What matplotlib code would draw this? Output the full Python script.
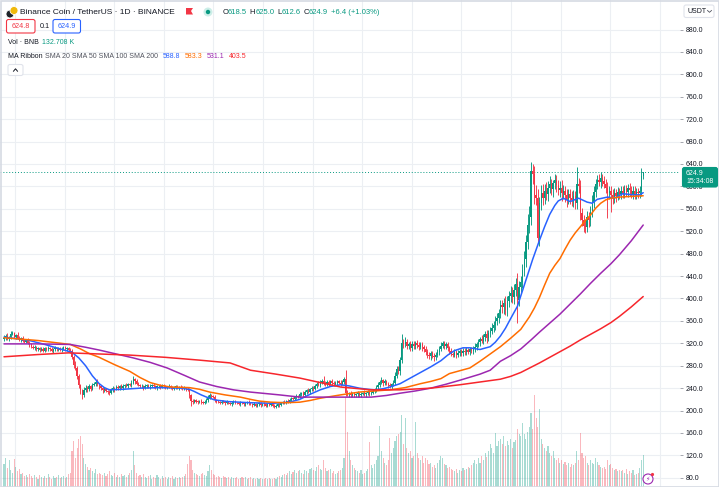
import numpy as np
import matplotlib.pyplot as plt
from matplotlib.patches import Rectangle, FancyBboxPatch, Circle, Polygon
from matplotlib.lines import Line2D
from matplotlib.transforms import Affine2D

plt.rcParams['font.family'] = ['Liberation Sans', 'DejaVu Sans']

W, H = 719, 487

# ---- daily candles (BNB / USDT) ----
first_open = 328.0
closes = (
    [330, 333, 328, 331, 336, 338, 332, 335, 330, 327, 329, 325, 323, 326, 321, 318, 314, 311, 313, 309,
     311, 308, 310, 307, 311, 309, 312, 309, 307, 310, 312, 309, 311, 308, 310, 313, 309, 311, 308, 306]
    + [296, 281, 276, 262, 245, 236, 228, 236, 241, 238, 243, 239, 245, 247, 251, 247, 243]
    + [240, 236, 238, 235, 233, 231, 236, 240, 238, 242, 240, 244, 241, 243, 246, 244, 247, 245, 250, 256, 252]
    + [248, 245, 243, 244, 241, 243, 245, 242, 244, 246, 243, 241, 243, 244, 242, 245, 243, 241, 242, 244,
       241, 239, 241, 243, 240, 242, 241, 239, 240, 238, 237]
    + [228, 217, 216, 218, 216, 215, 217, 215, 214, 216, 218, 222, 228, 226, 224, 218, 216, 215, 214, 216,
       215, 213, 215, 214, 212, 214, 216, 214, 213, 212, 214, 213, 211, 213, 215, 213, 212]
    + [210, 212, 209, 211, 213, 210, 212, 211, 209, 211, 210, 212, 209, 207, 209, 211, 210, 213, 215, 214,
       217, 216, 219, 222, 220, 224, 226, 225, 229]
    + [231, 228, 233, 236, 234, 238, 241, 239, 244, 248, 246, 250, 253, 249, 247, 251, 248, 252, 250, 247,
       249, 252, 250, 248, 251, 256]
    + [232]
    + [229, 231, 228, 230, 227, 229, 231, 228, 230, 232, 229, 231, 233, 230, 232, 235, 238]
    + [242, 246, 251, 254, 249, 252, 248, 245, 243, 247, 250, 262, 275, 270]
    + [290, 320, 318, 322, 316, 318, 312, 319, 315, 320, 317, 314, 318, 313, 310]
    + [305, 300, 297, 302, 298, 295, 300, 304, 310, 316, 320, 315, 318, 312, 306, 301]
    + [300, 304, 299, 303, 306, 302, 307, 304, 308, 305, 309, 306, 310]
    + [314, 318, 322, 327, 325, 332, 336, 330, 338, 342, 348, 352, 360, 365, 374, 388]
    + [384, 392, 380, 395, 405, 410, 402, 415, 425, 398, 420, 430]
    + [450, 470, 500, 532, 545, 628, 622, 584]
    + [580, 508, 570, 588, 580, 592, 586, 598, 604, 596, 606, 611, 602]
    + [594, 598, 588, 592, 584, 578, 586, 580, 575, 583, 570]
    + [605, 600, 552, 540, 530, 528, 545, 540]
    + [555, 572, 590, 605, 612, 608, 615, 610]
    + [605, 598, 588, 592, 585, 580, 588, 583, 590, 586]
    + [592, 588, 595, 590, 598, 593, 587, 592, 585, 590, 588, 591]
    + [618.5, 624.9]
)
upper_wick = (
    [4, 3, 5, 2, 6, 4, 3, 2, 5, 3, 2, 4, 3, 2, 4, 3, 2, 3, 4, 2, 3, 2, 3, 4, 2, 3, 3, 2, 4, 2, 3, 2, 3, 2, 4, 3, 2, 3, 2, 3]
    + [4, 3, 8, 3, 4, 3, 2, 6, 4, 3, 4, 3, 5, 4, 3, 6, 3]
    + [3, 2, 4, 3, 2, 3, 4, 3, 2, 4, 3, 2, 3, 4, 2, 3, 3, 2, 4, 6, 3]
    + [5, 3, 2, 3, 2, 4, 3, 2, 3, 2, 3, 2, 3, 2, 4, 2, 3, 2, 2, 3, 2, 3, 2, 3, 2, 2, 3, 2, 3, 2, 4]
    + [3, 2, 3, 2, 3, 2, 2, 3, 2, 3, 4, 5, 3, 2, 2, 3, 2, 3, 2, 2, 3, 2, 3, 2, 2, 3, 2, 3, 2, 2, 3, 2, 3, 2, 2, 3, 2]
    + [2, 3, 2, 2, 3, 2, 2, 3, 2, 2, 3, 2, 2, 3, 2, 3, 2, 3, 2, 3, 2, 3, 3, 2, 3, 2, 3, 2, 4]
    + [3, 4, 3, 2, 4, 3, 3, 2, 4, 3, 5, 4, 3, 8, 3, 4, 3, 2, 4, 3, 3, 2, 3, 4, 3, 4]
    + [16]
    + [4, 3, 4, 3, 3, 2, 4, 3, 3, 2, 4, 3, 4, 3, 3, 4, 3]
    + [4, 5, 4, 6, 3, 4, 3, 3, 4, 3, 5, 6, 5, 4]
    + [6, 16, 8, 10, 6, 5, 7, 5, 6, 5, 6, 5, 4, 5, 4]
    + [5, 4, 5, 4, 4, 5, 4, 5, 6, 6, 4, 5, 4, 5, 4, 5]
    + [4, 5, 4, 5, 4, 4, 5, 4, 5, 4, 5, 4, 6]
    + [6, 5, 6, 5, 7, 5, 6, 8, 6, 7, 8, 7, 8, 9, 8, 10]
    + [10, 8, 12, 10, 9, 12, 10, 11, 12, 20, 12, 10]
    + [12, 15, 14, 18, 20, 15, 12, 14]
    + [18, 15, 12, 14, 16, 12, 15, 12, 14, 10, 5, 12, 10]
    + [10, 12, 14, 10, 8, 12, 10, 9, 12, 10, 8]
    + [30, 10, 12, 10, 9, 10, 12, 10]
    + [10, 12, 10, 9, 8, 11, 10, 8]
    + [9, 8, 10, 9, 8, 10, 9, 8, 9, 8]
    + [8, 9, 7, 8, 6, 8, 7, 8, 9, 7, 8, 9]
    + [14.5, 0.1]
)
lower_wick = (
    [3, 4, 2, 3, 4, 2, 3, 4, 2, 3, 4, 2, 3, 3, 2, 4, 3, 2, 3, 2, 3, 4, 2, 3, 2, 3, 2, 3, 2, 4, 3, 2, 3, 2, 3, 2, 3, 2, 4, 3]
    + [4, 5, 3, 5, 4, 6, 8, 4, 3, 5, 3, 4, 3, 2, 4, 3, 4]
    + [3, 4, 3, 2, 4, 3, 2, 3, 4, 2, 3, 3, 2, 4, 3, 2, 3, 2, 3, 3, 4]
    + [3, 2, 3, 2, 4, 2, 3, 2, 3, 2, 3, 2, 4, 2, 3, 2, 3, 2, 3, 2, 2, 3, 2, 3, 2, 3, 2, 3, 2, 3, 2]
    + [5, 9, 4, 3, 2, 3, 2, 3, 2, 3, 2, 3, 2, 3, 2, 2, 3, 2, 3, 2, 2, 3, 2, 3, 2, 3, 2, 3, 2, 2, 3, 2, 3, 2, 2, 3, 2]
    + [3, 2, 3, 2, 2, 3, 2, 3, 2, 3, 2, 2, 3, 2, 3, 2, 3, 2, 2, 3, 2, 3, 2, 3, 2, 2, 3, 2, 3]
    + [3, 4, 3, 4, 3, 4, 3, 4, 3, 4, 3, 4, 3, 4, 3, 3, 4, 3, 4, 3, 3, 4, 3, 4, 3, 4]
    + [6]
    + [3, 4, 3, 4, 3, 3, 4, 3, 4, 3, 3, 4, 3, 4, 3, 3, 4]
    + [4, 3, 4, 3, 5, 4, 3, 4, 3, 4, 3, 5, 4, 5]
    + [6, 5, 6, 5, 7, 6, 5, 6, 5, 6, 5, 6, 5, 6, 5]
    + [5, 6, 5, 6, 5, 6, 5, 4, 5, 4, 5, 6, 5, 6, 5, 4]
    + [5, 4, 5, 4, 5, 4, 5, 4, 5, 4, 5, 4, 5]
    + [5, 6, 5, 6, 5, 6, 7, 10, 6, 7, 6, 7, 8, 7, 8, 9]
    + [10, 12, 9, 11, 10, 12, 10, 11, 10, 42, 12, 10]
    + [12, 10, 14, 12, 15, 14, 18, 15]
    + [14, 8, 15, 12, 14, 12, 10, 12, 10, 12, 14, 10, 12]
    + [10, 12, 14, 10, 12, 14, 10, 12, 10, 12, 10]
    + [10, 12, 12, 10, 12, 11, 10, 12]
    + [10, 9, 10, 8, 9, 8, 10, 9]
    + [8, 9, 45, 10, 30, 12, 9, 10, 8, 9]
    + [8, 9, 8, 7, 9, 10, 8, 9, 8, 7, 8, 9]
    + [8, 5.9]
)
volume_k = (
    [95, 120, 80, 110, 70, 60, 115, 85, 65, 75, 55, 60, 45, 50, 40, 55, 45, 38, 50, 42,
     35, 48, 40, 36, 44, 38, 52, 40, 35, 45, 38, 42, 50, 36, 40, 45, 38, 42, 55, 60]
    + [150, 190, 120, 160, 200, 210, 180, 120, 95, 85, 70, 80, 65, 60, 75, 55, 60]
    + [55, 48, 60, 45, 52, 65, 50, 45, 58, 42, 48, 40, 55, 45, 50, 42, 48, 60, 70, 150, 90]
    + [60, 45, 50, 40, 55, 42, 38, 45, 50, 35, 42, 38, 48, 40, 35, 45, 38, 42, 35, 40,
       38, 45, 35, 42, 38, 40, 36, 42, 45, 55, 95]
    + [130, 110, 70, 60, 55, 50, 45, 55, 60, 50, 45, 65, 90, 70, 55, 48, 42, 45, 40, 38,
       45, 42, 38, 40, 35, 42, 38, 36, 40, 35, 38, 42, 36, 40, 35, 38, 40]
    + [35, 38, 32, 36, 34, 38, 32, 35, 38, 33, 36, 34, 32, 38, 35, 40, 45, 42, 48, 55,
       50, 60, 65, 55, 62, 70, 58, 65, 72]
    + [60, 55, 70, 65, 60, 75, 80, 70, 65, 85, 90, 75, 70, 110, 80, 65, 70, 75, 60, 65,
       55, 60, 65, 70, 80, 120]
    + [375]
    + [230, 150, 110, 90, 80, 70, 65, 60, 70, 55, 60, 65, 75, 185, 90, 80, 95]
    + [110, 130, 255, 150, 120, 100, 90, 110, 205, 140, 160, 190, 210, 220]
    + [230, 300, 180, 285, 160, 140, 150, 120, 130, 270, 140, 120, 110, 130, 100]
    + [120, 110, 95, 100, 85, 90, 80, 100, 110, 130, 120, 95, 90, 80, 85, 75]
    + [70, 65, 75, 60, 70, 65, 80, 70, 75, 85, 80, 90, 100]
    + [110, 95, 120, 100, 130, 110, 140, 125, 150, 180, 160, 140, 225, 170, 190, 200]
    + [180, 210, 170, 190, 175, 200, 160, 185, 195, 240, 220, 210]
    + [265, 220, 200, 230, 250, 305, 240, 380]
    + [285, 250, 325, 200, 180, 160, 150, 170, 140, 130, 150, 120, 110]
    + [120, 100, 110, 95, 105, 90, 100, 85, 95, 90, 100]
    + [150, 110, 225, 140, 120, 130, 100, 90]
    + [110, 100, 95, 120, 105, 90, 85, 80]
    + [85, 75, 110, 90, 95, 80, 70, 75, 65, 70]
    + [65, 70, 60, 75, 55, 65, 60, 70, 50, 55, 60, 80]
    + [110, 132.708]
)

# MA Ribbon lines, read at points along the curves (candle index, price)
sma20_idx = [0, 8, 15, 24, 33, 40, 44, 48, 52, 56, 59, 62, 70, 80, 92, 104, 109, 112, 116, 120,
             124, 132, 145, 158, 168, 174, 180, 186, 192, 198, 203, 209, 214, 218, 223, 227, 233, 239, 245, 251,
             257, 261, 265, 270, 274, 280, 286, 289, 292, 295, 298, 302, 305, 308, 311, 315, 318, 321, 324, 326,
             329, 333, 338, 343, 346, 349, 355, 359, 364, 370, 374, 376]
sma20_val = [331, 328, 325, 318, 310, 304, 294, 280, 262, 248, 241, 237, 238, 240, 241, 240, 238, 234, 228, 223,
             219, 216, 214, 213, 215, 220, 229, 237, 243, 246, 244, 240, 238, 237, 239, 242, 248, 258, 268, 278,
             289, 299, 307, 312, 312, 309, 314, 322, 333, 347, 364, 386, 414, 442, 470, 504, 528, 550, 566, 574,
             579, 573, 579, 572, 570, 577, 581, 579, 587, 585, 585, 588.8]
sma50_idx = [0, 20, 39, 45, 50, 56, 65, 74, 80, 86, 92, 98, 109, 115, 121, 130, 139, 145, 150, 157,
             166, 174, 180, 186, 192, 198, 209, 218, 227, 236, 245, 251, 257, 262, 268, 274, 280, 286, 292, 298,
             304, 309, 312, 315, 318, 321, 324, 327, 330, 333, 336, 339, 342, 345, 348, 351, 354, 357, 362, 368,
             376]
sma50_val = [330, 325, 318, 310, 302, 295, 282, 270, 259, 250, 245, 242, 241, 238, 233, 228, 224, 220, 217, 215,
             214, 215, 218, 222, 225, 228, 233, 235, 237, 241, 248, 252, 257, 266, 271, 276, 288, 301, 314, 329,
             345, 367, 383, 402, 424, 445, 459, 471, 488, 504, 517, 528, 539, 549, 561, 570, 576, 579, 581, 582,
             583.3]
sma100_idx = [0, 20, 39, 48, 56, 66, 76, 86, 96, 106, 115, 125, 135, 145, 162, 174, 198, 216, 225, 233,
              242, 251, 260, 268, 280, 286, 292, 298, 304, 310, 315, 321, 327, 333, 339, 345, 351, 357, 362, 369,
              376]
sma100_val = [319, 319, 318, 313, 308, 301, 294, 286, 276, 263, 251, 243, 237, 233, 228, 224, 224, 224, 227, 231,
              235, 240, 247, 254, 265, 272, 288, 298, 310, 326, 340, 356, 372, 390, 408, 427, 445, 462, 478, 503,
              531.1]
sma200_idx = [0, 20, 38, 56, 74, 95, 115, 133, 145, 160, 174, 186, 198, 216, 233, 251, 268, 280, 292, 298,
              304, 315, 321, 327, 333, 339, 345, 351, 357, 362, 369, 376]
sma200_val = [296, 300, 303, 301, 299, 295, 290, 285, 272, 265, 258, 250, 242, 237, 237, 240, 246, 251, 256, 261,
              268, 285, 295, 305, 315, 326, 336, 346, 357, 368, 385, 403.5]

price_ticks = list(range(80, 881, 40))
last_price = 624.9

UP, DN = '#089981', '#f23645'
MA_COLORS = ['#2962ff', '#ff6d00', '#9c27b0', '#f7262c']
GRID = '#eceff3'
TXT = '#131722'

n = min(len(closes), len(upper_wick), len(lower_wick), len(volume_k))
c = np.array(closes[:n], dtype=float)
o = np.array([first_open] + closes[:n - 1], dtype=float)
hi = np.maximum(o, c) + np.array(upper_wick[:n])
lo = np.minimum(o, c) - np.array(lower_wick[:n])
vol = np.array(volume_k[:n], dtype=float)
x = np.arange(n)
rising = c >= o
col = np.where(rising, UP, DN)

# pixel layout: candle i sits at 4 + 1.7*i px, price p at 164 + (640-p)*0.5604 px
step = 1.7
xmin, xmax = -4 / step, 676 / step
ymin, ymax = 640 - 323 / 0.5604, 640 + 164 / 0.5604
VMAX = 2020.0

fig = plt.figure(figsize=(W / 100, H / 100), dpi=100)
fig.patch.set_facecolor('white')
rect = [0, 0, 680 / W, 1]
axv = fig.add_axes(rect)
ax = fig.add_axes(rect, sharex=axv)
ax.patch.set_alpha(0)

# grid and volume (bottom layer)
axv.set_xlim(xmin, xmax)
axv.set_ylim(0, VMAX)
axv.axis('off')
for px in np.arange(15, 680, 49.6):
    axv.axvline((px - 4) / step, color=GRID, lw=0.8, zorder=0)
for t in price_ticks:
    axv.axhline((t - ymin) / (ymax - ymin) * VMAX, color=GRID, lw=0.8, zorder=0)
axv.bar(x, vol, width=0.7, color=col, alpha=0.35, lw=0, zorder=1)

# candles
ax.axhline(last_price, color=UP, ls=(0, (1, 2)), lw=0.7, zorder=2)
ax.vlines(x, lo, hi, colors=col, lw=0.65, zorder=3)
ax.bar(x, np.maximum(np.abs(c - o), 1.2), bottom=np.minimum(o, c), width=0.82, color=col, lw=0, zorder=4)

for xs, ys, cc in zip([sma20_idx, sma50_idx, sma100_idx, sma200_idx],
                      [sma20_val, sma50_val, sma100_val, sma200_val], MA_COLORS):
    ax.plot(xs, ys, color=cc, lw=1.1, zorder=5, solid_capstyle='round', solid_joinstyle='round')

ax.set_xlim(xmin, xmax)
ax.set_ylim(ymin, ymax)
ax.yaxis.tick_right()
ax.set_yticks(price_ticks)
ax.set_yticklabels([f'{t:.1f}' for t in price_ticks])
ax.tick_params(axis='y', length=2.5, width=0.6, color='#9598a1', labelsize=5, labelcolor=TXT, pad=1.5)
ax.tick_params(axis='x', bottom=False, labelbottom=False)
for s in ax.spines.values():
    s.set_visible(False)

# figure overlays in pixel coordinates (y downwards)
T = Affine2D().scale(1 / W, -1 / H).translate(0, 1) + fig.transFigure


def ptext(px, py, s, **kw):
    kw.setdefault('va', 'center')
    kw.setdefault('ha', 'left')
    kw.setdefault('color', TXT)
    fig.text(px, py, s, transform=T, **kw)


def pbox(px, py, w, h, fc='white', ec='#e0e3eb', lw=0.8, r=2):
    fig.patches.append(FancyBboxPatch((px, py), w, h, boxstyle=f'round,pad=0,rounding_size={r}',
                                      transform=T, fc=fc, ec=ec, lw=lw, figure=fig))


# symbol icon, title, flag and status dot
fig.patches.append(Circle((10, 14), 4, transform=T, fc='#1e2329', ec='white', lw=0.6, figure=fig))
fig.patches.append(Circle((14, 10.5), 4, transform=T, fc='#f0b90b', ec='white', lw=0.6, figure=fig))
ptext(20, 12.5, 'Binance Coin / TetherUS · 1D · BINANCE', fontsize=6)
fig.patches.append(Polygon([(186, 8), (193, 8), (191, 11), (193, 14.5), (186, 14.5)], closed=True,
                           transform=T, fc=DN, ec='none', figure=fig))
fig.patches.append(Circle((208, 12), 4.5, transform=T, fc='#cdeee8', ec='none', figure=fig))
fig.patches.append(Circle((208, 12), 2.2, transform=T, fc=UP, ec='none', figure=fig))

ohlc = [('O', 222.5, TXT), ('618.5', 228, UP), ('H', 249.5, TXT), ('625.0', 255.5, UP),
        ('L', 277.5, TXT), ('612.6', 282, UP), ('C', 303.5, TXT), ('624.9', 309, UP),
        ('+6.4 (+1.03%)', 331, UP)]
for s, px, cc in ohlc:
    ptext(px, 12.5, s, fontsize=5.5, color=cc)

# bid / ask row
pbox(6.5, 19.5, 28.5, 13.5, ec=DN)
ptext(20.7, 26.5, '624.8', fontsize=5.2, color=DN, ha='center')
ptext(39.5, 26.5, '0.1', fontsize=5.2)
pbox(53, 19.5, 27.5, 13.5, ec='#2962ff')
ptext(66.7, 26.5, '624.9', fontsize=5.2, color='#2962ff', ha='center')

# indicator legends
ptext(8, 43, 'Vol · BNB', fontsize=5)
ptext(42, 43, '132.708 K', fontsize=5, color=UP)
ptext(8, 57, 'MA Ribbon', fontsize=5, fontweight='medium')
ptext(45, 57, 'SMA 20 SMA 50 SMA 100 SMA 200', fontsize=5, color='#50535e')
for s, px, cc in zip(['588.8', '583.3', '531.1', '403.5'], [163, 185, 207, 229], MA_COLORS):
    ptext(px, 57, s, fontsize=5, color=cc)

# collapse button
pbox(8, 64.5, 15, 11)
fig.lines.append(Line2D([13.5, 15.5, 17.5], [71.2, 68.8, 71.2], transform=T, color=TXT, lw=0.7, figure=fig))

# currency selector
pbox(684, 5, 30, 12.5)
ptext(687.5, 11.5, 'USDT', fontsize=5)
fig.lines.append(Line2D([707.5, 709.5, 711.5], [10.5, 12.3, 10.5], transform=T, color='#50535e', lw=0.6,
                        figure=fig))

# last price label
pbox(682.5, 167.5, 35, 19.5, fc=UP, ec=UP)
ptext(686, 173.3, '624.9', fontsize=5, color='white')
ptext(686, 181.8, '15:34:08', fontsize=5, color='white')

# small alert icon near the last bar
fig.patches.append(Circle((648, 479), 5, transform=T, fc='white', ec='#9c27b0', lw=0.8, figure=fig))
ptext(648, 479.5, '\u26a1', fontsize=4.5, color='#9c27b0', ha='center', family=['DejaVu Sans'])
fig.patches.append(Circle((652.5, 474.5), 1.6, transform=T, fc=DN, ec='none', figure=fig))

# outer frame
fig.patches.append(Rectangle((0.5, 0.5), W - 1, H - 1, transform=T, fill=False, ec='#d6dae3', lw=1.2,
                             figure=fig))

fig.savefig('out.png', dpi=100)
